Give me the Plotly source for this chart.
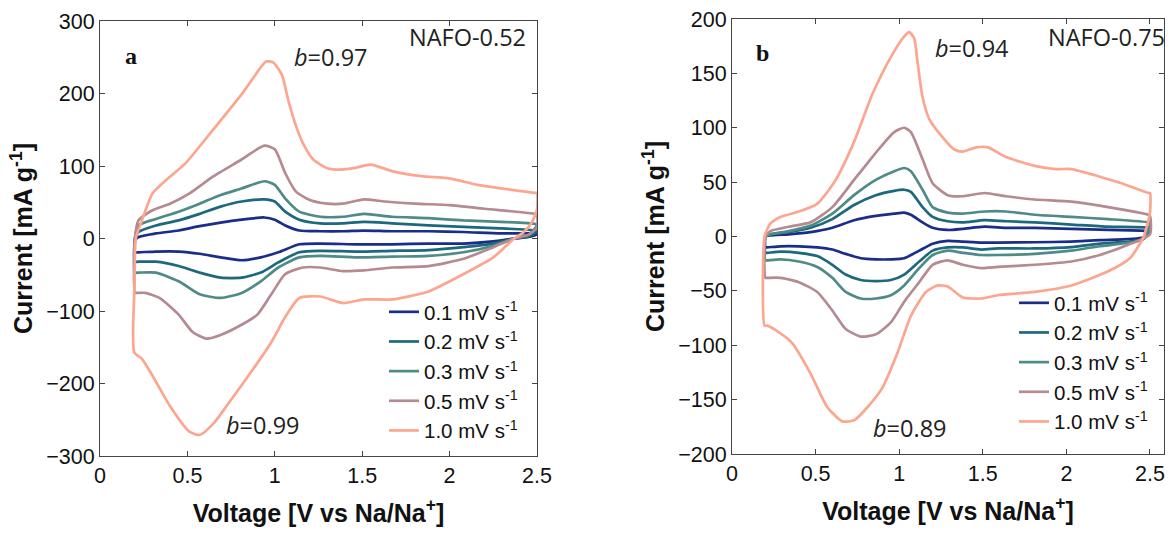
import plotly.graph_objects as go

W, H = 1168, 533

# ---- Panel a: NAFO-0.52 (closed CV loops, V vs Na/Na+) ----
A_V_10 = [0.196, 0.198, 0.205, 0.24, 0.30, 0.38, 0.49, 0.65, 0.82, 0.95,
          0.99, 1.04, 1.08, 1.12, 1.16, 1.22, 1.30, 1.37, 1.45, 1.55,
          1.67, 1.84, 2.0, 2.16, 2.33, 2.49, 2.5, 2.5, 2.47, 2.42,
          2.37, 2.25, 2.08, 1.88, 1.67, 1.51, 1.39, 1.26, 1.14, 1.06,
          0.98, 0.85, 0.73, 0.65, 0.57, 0.51, 0.40, 0.30, 0.24, 0.196]
A_I_10 = [-157, -60, 0, 25, 62, 81, 104, 151, 202, 244,
          243, 226, 188, 156, 132, 109, 97, 95, 97, 102,
          93, 86, 83, 74, 68, 63, 63, 40, 22, 8,
          0, -26, -49, -73, -84, -84, -89, -80, -82, -108,
          -143, -189, -229, -255, -271, -266, -231, -189, -166, -157]

A_V_05 = [0.2, 0.2, 0.22, 0.30, 0.40, 0.51, 0.65, 0.81, 0.94, 1.0,
          1.06, 1.12, 1.20, 1.30, 1.39, 1.51, 1.63, 1.80, 2.0, 2.20,
          2.49, 2.5, 2.5, 2.45, 2.37, 2.25, 2.08, 1.88, 1.67, 1.51,
          1.39, 1.26, 1.16, 1.06, 0.98, 0.90, 0.81, 0.69, 0.61, 0.53,
          0.45, 0.34, 0.26, 0.21, 0.2]
A_I_05 = [-75, 0, 25, 39, 48, 62, 86, 109, 128, 123,
          90, 65, 53, 48, 48, 54, 51, 48, 46, 41,
          34, 33, 15, 5, 0, -12, -28, -38, -40, -44,
          -45, -40, -40, -49, -77, -105, -119, -133, -138, -129,
          -105, -82, -75, -75, -75]

A_V_LOW = [0.2, 0.2, 0.22, 0.32, 0.45, 0.57, 0.69, 0.81, 0.94, 1.0,
           1.06, 1.14, 1.26, 1.39, 1.51, 1.67, 1.88, 2.08, 2.29, 2.49,
           2.5, 2.45, 2.37, 2.25, 2.08, 1.88, 1.67, 1.47, 1.26, 1.14,
           1.02, 0.92, 0.81, 0.69, 0.57, 0.45, 0.32, 0.22, 0.2]
A_I_03 = [-47, 0, 18, 27, 37, 48, 60, 69, 79, 74,
          55, 37, 30, 30, 34, 30, 28, 25, 23, 20,
          18, 5, 0, -10, -19, -24, -25, -26, -24, -26,
          -40, -59, -75, -82, -77, -59, -47, -47, -47]
A_I_02 = [-32, 0, 9, 18, 25, 34, 44, 51, 54, 51,
          37, 26, 21, 21, 23, 21, 18, 16, 14, 11,
          10, 3, 0, -7, -12, -16, -17, -18, -17, -19,
          -33, -47, -54, -54, -47, -38, -32, -32, -32]
A_I_01 = [-19, -3, 2, 7, 11, 17, 22, 26, 29, 26,
          18, 11, 10, 10, 11, 10, 10, 9, 7, 7,
          6, 2, 0, -4, -7, -7, -8, -8, -7, -8,
          -19, -26, -30, -26, -21, -18, -18, -19, -19]

# ---- Panel b: NAFO-0.75 ----
B_V_10 = [0.195, 0.195, 0.23, 0.29, 0.40, 0.51, 0.62, 0.73, 0.84, 0.95,
          1.03, 1.06, 1.09, 1.11, 1.14, 1.18, 1.25, 1.33, 1.38, 1.46,
          1.53, 1.64, 1.81, 1.94, 2.03, 2.20, 2.33, 2.49, 2.5, 2.5,
          2.46, 2.38, 2.25, 2.03, 1.81, 1.59, 1.49, 1.38, 1.29, 1.23,
          1.16, 1.07, 0.99, 0.90, 0.81, 0.73, 0.66, 0.57, 0.47, 0.36,
          0.27, 0.21, 0.195]
B_I_10 = [-82, 0, 12, 18, 23, 30, 52, 87, 131, 165,
          184, 188, 182, 160, 128, 108, 93, 80, 78, 82,
          82, 73, 65, 62, 62, 55, 49, 40, 40, 22,
          -1, -20, -32, -45, -51, -54, -57, -56, -46, -45,
          -51, -73, -107, -139, -157, -169, -170, -157, -126, -98,
          -87, -82, -82]

B_V_05 = [0.2, 0.2, 0.23, 0.34, 0.47, 0.60, 0.73, 0.86, 0.97, 1.03,
          1.07, 1.14, 1.20, 1.29, 1.38, 1.51, 1.64, 1.81, 2.03, 2.25,
          2.49, 2.5, 2.5, 2.38, 2.20, 2.03, 1.81, 1.59, 1.49, 1.38,
          1.29, 1.20, 1.12, 1.03, 0.95, 0.86, 0.77, 0.68, 0.60, 0.51,
          0.40, 0.29, 0.21, 0.2]
B_I_05 = [-38, 0, 5, 9, 13, 27, 52, 77, 96, 100,
          96, 71, 49, 38, 37, 40, 37, 34, 32, 27,
          20, 19, 2, -7, -17, -23, -26, -28, -29, -26,
          -22, -26, -42, -60, -79, -90, -92, -85, -68, -51,
          -42, -38, -38, -38]

B_V_LOW = [0.2, 0.2, 0.23, 0.34, 0.47, 0.60, 0.73, 0.86, 0.97, 1.03,
           1.07, 1.14, 1.20, 1.29, 1.38, 1.51, 1.64, 1.81, 2.03, 2.25,
           2.49, 2.5, 2.46, 2.20, 2.03, 1.81, 1.59, 1.49, 1.38, 1.29,
           1.20, 1.12, 1.03, 0.95, 0.86, 0.77, 0.68, 0.60, 0.51, 0.40,
           0.29, 0.21, 0.2]
B_I_03 = [-22, 0, 2, 5, 10, 21, 38, 52, 60, 63,
          60, 43, 27, 22, 21, 23, 23, 20, 18, 16,
          13, 12, -2.5, -9, -13, -16, -17, -17, -15, -13,
          -17, -29, -45, -54, -57, -57, -51, -38, -28, -23,
          -21, -22, -22]
B_I_02 = [-15, 0, 2, 4, 8, 16, 29, 38, 42, 43,
          41, 27, 18, 14, 13, 15, 14, 13, 11, 9,
          8, 7, -2.5, -6.6, -9.7, -11, -11, -12, -10, -10,
          -13, -23, -35, -40, -41, -40, -35, -26, -18, -15,
          -14, -15, -15]
B_I_01 = [-10, 0, 1, 2, 4, 8, 15, 19, 21, 22,
          20, 13, 8, 6, 7, 9, 8, 8, 7, 6,
          5, 4, -1, -3.4, -4.7, -5.3, -5.6, -5.6, -4.7, -4,
          -6.6, -13, -20, -21, -21, -20, -16, -12, -10, -9,
          -9, -10, -10]

SCAN_LABELS = ["0.1 mV s<sup>-1</sup>", "0.2 mV s<sup>-1</sup>", "0.3 mV s<sup>-1</sup>",
               "0.5 mV s<sup>-1</sup>", "1.0 mV s<sup>-1</sup>"]
SCAN_COLORS = ["#1b2d8a", "#1c687d", "#4f8b86", "#b58a91", "#fca58f"]

X_TICKS = [0, 0.5, 1, 1.5, 2, 2.5]
X_TICK_TEXT = ["0", "0.5", "1", "1.5", "2", "2.5"]
A_Y_TICKS = [-300, -200, -100, 0, 100, 200, 300]
B_Y_TICKS = [-200, -150, -100, -50, 0, 50, 100, 150, 200]

panel_a = [(A_V_LOW, A_I_01), (A_V_LOW, A_I_02), (A_V_LOW, A_I_03),
           (A_V_05, A_I_05), (A_V_10, A_I_10)]
panel_b = [(B_V_LOW, B_I_01), (B_V_LOW, B_I_02), (B_V_LOW, B_I_03),
           (B_V_05, B_I_05), (B_V_10, B_I_10)]

fig = go.Figure()
for (v, i), name, col in zip(panel_a, SCAN_LABELS, SCAN_COLORS):
    fig.add_trace(go.Scatter(x=v, y=i, mode="lines", name=name,
                             line=dict(color=col, width=2.7, shape="spline", smoothing=0.6),
                             xaxis="x", yaxis="y", legend="legend"))
for (v, i), name, col in zip(panel_b, SCAN_LABELS, SCAN_COLORS):
    fig.add_trace(go.Scatter(x=v, y=i, mode="lines", name=name,
                             line=dict(color=col, width=2.7, shape="spline", smoothing=0.6),
                             xaxis="x2", yaxis="y2", legend="legend2"))

TICK_FONT = dict(family="Liberation Sans, Arial", size=21.5, color="#111")
TITLE_FONT = dict(family="Liberation Sans, Arial", size=25, color="#111", weight="bold")
LEGEND_FONT = dict(family="Liberation Sans, Arial", size=20.5, color="#111")
AX_COMMON = dict(showline=True, linecolor="#444", linewidth=1, mirror="ticks",
                 ticks="inside", ticklen=5, tickcolor="#444", showgrid=False,
                 zeroline=False, tickfont=TICK_FONT, automargin=False)

def px_x(p):
    return p / W

def px_y(p):
    return 1 - p / H

fig.update_layout(
    width=W, height=H, margin=dict(l=0, r=0, t=0, b=0),
    paper_bgcolor="white", plot_bgcolor="white",
    xaxis=dict(domain=[px_x(100), px_x(537)], range=[0, 2.5], tickvals=X_TICKS,
               ticktext=X_TICK_TEXT, anchor="y",
               title=dict(text="Voltage [V vs Na/Na<sup>+</sup>]", font=TITLE_FONT, standoff=17),
               **AX_COMMON),
    yaxis=dict(domain=[px_y(456), px_y(21)], range=[-300, 300], tickvals=A_Y_TICKS,
               anchor="x",
               title=dict(text="Current [mA g<sup>-1</sup>]", font=TITLE_FONT, standoff=6),
               **AX_COMMON),
    xaxis2=dict(domain=[px_x(732), px_x(1164)], range=[0, 2.584], tickvals=X_TICKS,
                ticktext=X_TICK_TEXT, anchor="y2",
                title=dict(text="Voltage [V vs Na/Na<sup>+</sup>]", font=TITLE_FONT, standoff=17),
                **AX_COMMON),
    yaxis2=dict(domain=[px_y(454), px_y(19)], range=[-200, 200], tickvals=B_Y_TICKS,
                anchor="x2",
                title=dict(text="Current [mA g<sup>-1</sup>]", font=TITLE_FONT, standoff=6),
                **AX_COMMON),
    legend=dict(x=px_x(384), y=px_y(292), xanchor="left", yanchor="top",
                bgcolor="rgba(0,0,0,0)", borderwidth=0, tracegroupgap=0,
                font=LEGEND_FONT),
    legend2=dict(x=px_x(1014), y=px_y(283), xanchor="left", yanchor="top",
                 bgcolor="rgba(0,0,0,0)", borderwidth=0, tracegroupgap=0,
                 font=LEGEND_FONT),
    showlegend=True,
)

NOTE_FONT = dict(family="Open Sans, Noto Sans", size=23.5, color="#222")
LETTER_FONT = dict(family="Liberation Serif, Times New Roman", size=24, color="#111", weight="bold")
notes = [
    ("x", "y", 2.10, 278, "NAFO-0.52", NOTE_FONT),
    ("x", "y", 1.32, 250, "<i>b</i>=0.97", NOTE_FONT),
    ("x", "y", 0.93, -257, "<i>b</i>=0.99", NOTE_FONT),
    ("x", "y", 0.177, 252, "a", LETTER_FONT),
    ("x2", "y2", 2.24, 183, "NAFO-0.75", NOTE_FONT),
    ("x2", "y2", 1.435, 173, "<i>b</i>=0.94", NOTE_FONT),
    ("x2", "y2", 1.065, -176, "<i>b</i>=0.89", NOTE_FONT),
    ("x2", "y2", 0.18, 169, "b", LETTER_FONT),
]
for xr, yr, xv, yv, txt, fnt in notes:
    fig.add_annotation(xref=xr, yref=yr, x=xv, y=yv, text=txt, showarrow=False,
                       font=fnt, xanchor="center", yanchor="middle")

fig.write_html("out.html")
